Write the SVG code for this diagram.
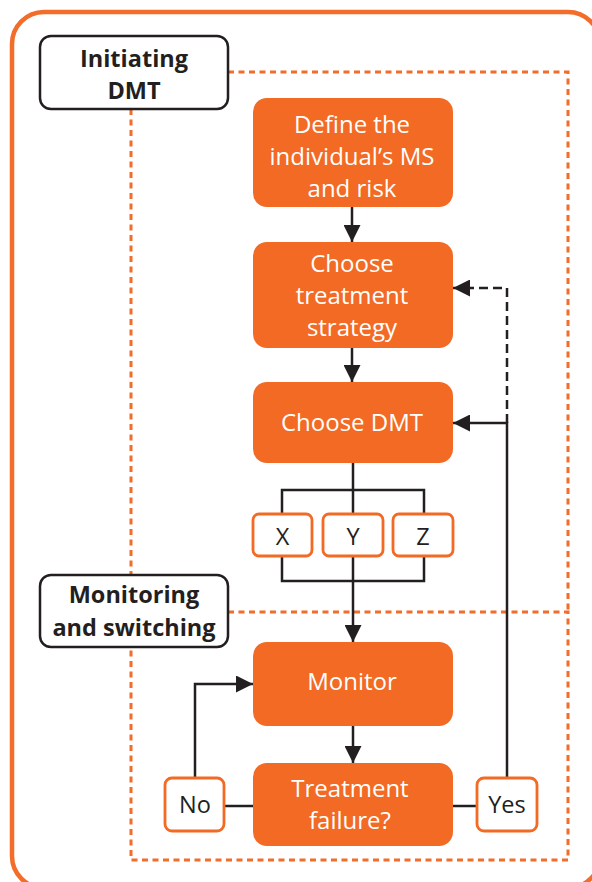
<svg xmlns="http://www.w3.org/2000/svg" width="592" height="882" viewBox="0 0 592 882">
<style>
.frame{fill:none;stroke:#F26C2A;stroke-width:4.5}
.sect{fill:none;stroke:#F26C2A;stroke-width:3;stroke-dasharray:6,4.5}
.label rect{fill:#fff;stroke:#231F20;stroke-width:2.5}
.label text{font-family:"Open Sans","Liberation Sans",sans-serif;font-weight:bold;font-size:23.5px;fill:#231F20;text-anchor:middle}
.step rect{fill:#F26A24;stroke:none}
.step text{font-family:"Open Sans","Liberation Sans",sans-serif;font-size:24px;fill:#fff;text-anchor:middle}
.opt rect{fill:#fff;stroke:#F26A24;stroke-width:2.8}
.opt text{font-family:"Open Sans","Liberation Sans",sans-serif;font-size:23.5px;fill:#231F20;text-anchor:middle}
.ln{fill:none;stroke:#231F20;stroke-width:2.5}
.dash{stroke-dasharray:9,5}
</style>
<defs>
<marker id="ah" markerUnits="userSpaceOnUse" markerWidth="17" markerHeight="17" refX="17" refY="8.5" orient="auto">
<path d="M0,0 L17,8.5 L0,17 z" fill="#231F20"/>
</marker>
</defs>
<rect class="frame" x="12" y="12" width="588" height="876" rx="32"/>
<g id="sections">
<path class="sect" d="M228,72 H568 V612"/>
<path class="sect" d="M131,109 V575"/>
<path class="sect" d="M228,612 H568 V860 H131 V647"/>
</g>
<g id="connectors">
<path class="ln" d="M352,207 V242" marker-end="url(#ah)"/>
<path class="ln" d="M352,348 V382" marker-end="url(#ah)"/>
<path class="ln" d="M353,463 V514"/>
<path class="ln" d="M282,514 V490 H424 V514"/>
<path class="ln" d="M282,556 V581 H424 V556"/>
<path class="ln" d="M353,556 V642" marker-end="url(#ah)"/>
<path class="ln" d="M353,726 V763" marker-end="url(#ah)"/>
<path class="ln" d="M224,806 H253"/>
<path class="ln" d="M453,806 H477"/>
<path class="ln" d="M195,778 V684 H253" marker-end="url(#ah)"/>
<path class="ln" d="M507,778 V423 H453" marker-end="url(#ah)"/>
<path class="ln dash" d="M507,423 V288 H453" marker-end="url(#ah)"/>
</g>
<g id="label-initiating" class="label">
<rect x="40" y="36" width="188" height="73" rx="11"/>
<text x="134" y="67">Initiating</text>
<text x="134" y="99">DMT</text>
</g>
<g id="label-monitoring" class="label">
<rect x="40" y="575" width="188" height="72" rx="11"/>
<text x="134" y="603">Monitoring</text>
<text x="134" y="636">and switching</text>
</g>
<g id="define" class="step">
<rect x="253" y="98" width="200" height="109" rx="14"/>
<text x="352" y="133">Define the</text>
<text x="352" y="165">individual’s MS</text>
<text x="352" y="197">and risk</text>
</g>
<g id="strategy" class="step">
<rect x="253" y="242" width="200" height="106" rx="14"/>
<text x="352" y="272">Choose</text>
<text x="352" y="304">treatment</text>
<text x="352" y="336">strategy</text>
</g>
<g id="choose-dmt" class="step">
<rect x="253" y="382" width="200" height="81" rx="14"/>
<text x="352" y="431">Choose DMT</text>
</g>
<g id="opt-x" class="opt">
<rect x="253" y="514" width="59" height="42" rx="6"/>
<text x="282.5" y="545">X</text>
</g>
<g id="opt-y" class="opt">
<rect x="323" y="514" width="60" height="42" rx="6"/>
<text x="353" y="545">Y</text>
</g>
<g id="opt-z" class="opt">
<rect x="393" y="514" width="60" height="42" rx="6"/>
<text x="423" y="545">Z</text>
</g>
<g id="monitor" class="step">
<rect x="253" y="642" width="200" height="84" rx="14"/>
<text x="352" y="690">Monitor</text>
</g>
<g id="failure" class="step">
<rect x="253" y="763" width="200" height="83" rx="14"/>
<text x="350" y="797">Treatment</text>
<text x="350" y="829">failure?</text>
</g>
<g id="no" class="opt">
<rect x="165" y="778" width="59" height="53" rx="7"/>
<text x="195" y="813">No</text>
</g>
<g id="yes" class="opt">
<rect x="477" y="778" width="60" height="53" rx="7"/>
<text x="507" y="813">Yes</text>
</g>
</svg>
